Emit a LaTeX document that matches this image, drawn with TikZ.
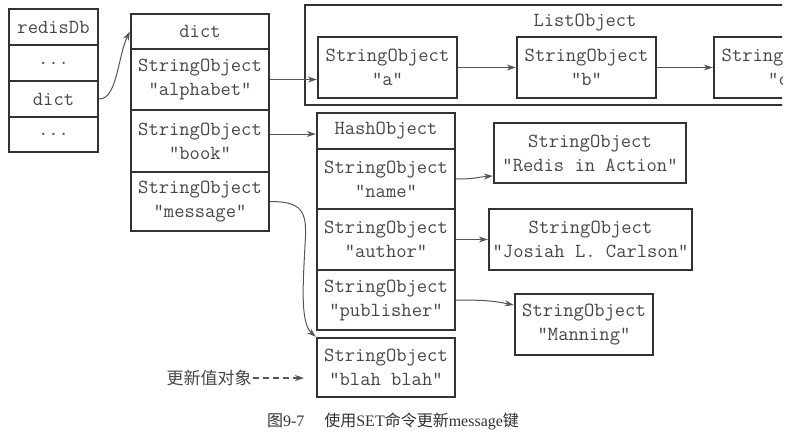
\documentclass[tikz,border=0pt]{standalone}
\usepackage{fontspec}
\setmainfont{Liberation Serif}
\newfontfamily\cjk{Noto Sans CJK SC}
\usetikzlibrary{arrows.meta}
\definecolor{boxgray}{RGB}{50,50,50}
\definecolor{txtgray}{RGB}{70,70,70}
\definecolor{arrgray}{RGB}{85,85,85}

\begin{document}
\begin{tikzpicture}[x=1pt,y=-1pt]

    \tikzstyle{cell}=[rectangle, draw=boxgray, line width=2.4pt, inner sep=0pt, align=center,
                      text=txtgray, font=\ttfamily\fontsize{20}{24}\selectfont]
    \tikzstyle{ptr}=[draw=arrgray, line width=1pt, -{Stealth[length=9pt,width=6pt]}]

    \useasboundingbox (0,0) rectangle (795,442);
    \begin{scope}
    \clip (0,0) rectangle (782,442);

    % redisDb
    \node[cell, minimum width=89pt, minimum height=36pt] (rdb)    at (53.5,27)    {redisDb};
    \node[cell, minimum width=89pt, minimum height=36pt] (rdots1) at (53.5,63)    {...};
    \node[cell, minimum width=89pt, minimum height=36pt] (rdict)  at (53.5,99)    {dict};
    \node[cell, minimum width=89pt, minimum height=35pt] (rdots2) at (53.5,134.5) {...};

    % dict
    \node[cell, minimum width=138pt, minimum height=35pt] (dhead)  at (200,31.5)  {dict};
    \node[cell, minimum width=138pt, minimum height=61pt] (kalpha) at (200,79.5)  {StringObject\\"alphabet"};
    \node[cell, minimum width=138pt, minimum height=62pt] (kbook)  at (200,141)   {StringObject\\"book"};
    \node[cell, minimum width=138pt, minimum height=59pt] (kmsg)   at (200,201.5) {StringObject\\"message"};

    % ListObject
    \draw[draw=boxgray, line width=2.4pt] (305,5) rectangle (900,105);
    \node[text=txtgray, font=\ttfamily\fontsize{20}{24}\selectfont] (listlbl) at (585,23) {ListObject};
    \node[cell, minimum width=139pt, minimum height=61pt] (la) at (387.5,67.5) {StringObject\\"a"};
    \node[cell, minimum width=139pt, minimum height=61pt] (lb) at (586.5,67.5) {StringObject\\"b"};
    \node[cell, minimum width=139pt, minimum height=61pt] (lc) at (783.5,67.5) {StringObject\\"c"};

    % HashObject
    \node[cell, minimum width=138pt, minimum height=36pt] (hhead)   at (386,131)   {HashObject};
    \node[cell, minimum width=138pt, minimum height=60pt] (fname)   at (386,179)   {StringObject\\"name"};
    \node[cell, minimum width=138pt, minimum height=61pt] (fauthor) at (386,239.5) {StringObject\\"author"};
    \node[cell, minimum width=138pt, minimum height=60pt] (fpub)    at (386,300)   {StringObject\\"publisher"};
    \node[cell, minimum width=138pt, minimum height=59pt] (blah)    at (386,367.5) {StringObject\\"blah blah"};

    % values
    \node[cell, minimum width=192pt, minimum height=60pt] (vname)   at (590,153)   {StringObject\\"Redis in Action"};
    \node[cell, minimum width=203pt, minimum height=61pt] (vauthor) at (590.5,239.5) {StringObject\\"Josiah L. Carlson"};
    \node[cell, minimum width=138pt, minimum height=61pt] (vpub)    at (584,324.5) {StringObject\\"Manning"};

    % pointers
    \draw[ptr] (rdict.east) .. controls +(18,0) and +(-12,25) .. (dhead.west);
    \draw[ptr] (kalpha.east) -- (kalpha.east -| la.west);
    \draw[ptr] (la) -- (lb);
    \draw[ptr] (lb) -- (lc);
    \draw[ptr] ([yshift=7pt]kbook.east) -- ([yshift=-3pt]hhead.west);
    \draw[ptr] (kmsg.east) .. controls +(32,0) and +(2,-30) .. ++(35,40)
                           .. controls +(-2,40) and +(-16,-14) .. (blah.north west);
    \draw[ptr] (fname.east) .. controls +(20,0) and +(-15,1) .. ([yshift=-23pt]vname.west);
    \draw[ptr] (fauthor) -- (vauthor);
    \draw[ptr] (fpub.east) .. controls +(30,0) and +(-20,-4) .. ([yshift=19.5pt]vpub.west);

    % note
    \node[text=txtgray, inner sep=1pt, font=\cjk\fontsize{17}{20}\selectfont] (note) at (209,378) {更新值对象};
    \coordinate (notetip) at (304,378);
    \draw[ptr, line width=1.4pt, dash pattern=on 6pt off 4pt] (note.east) -- (notetip);

    \end{scope}

    % caption
    \node[text=boxgray, font=\fontsize{16}{18}\selectfont] (caption) at (393,421)
        {{\cjk 图}9-7\hspace{20pt}{\cjk 使用}SET{\cjk 命令更新}message{\cjk 键}};
\end{tikzpicture}
\end{document}
